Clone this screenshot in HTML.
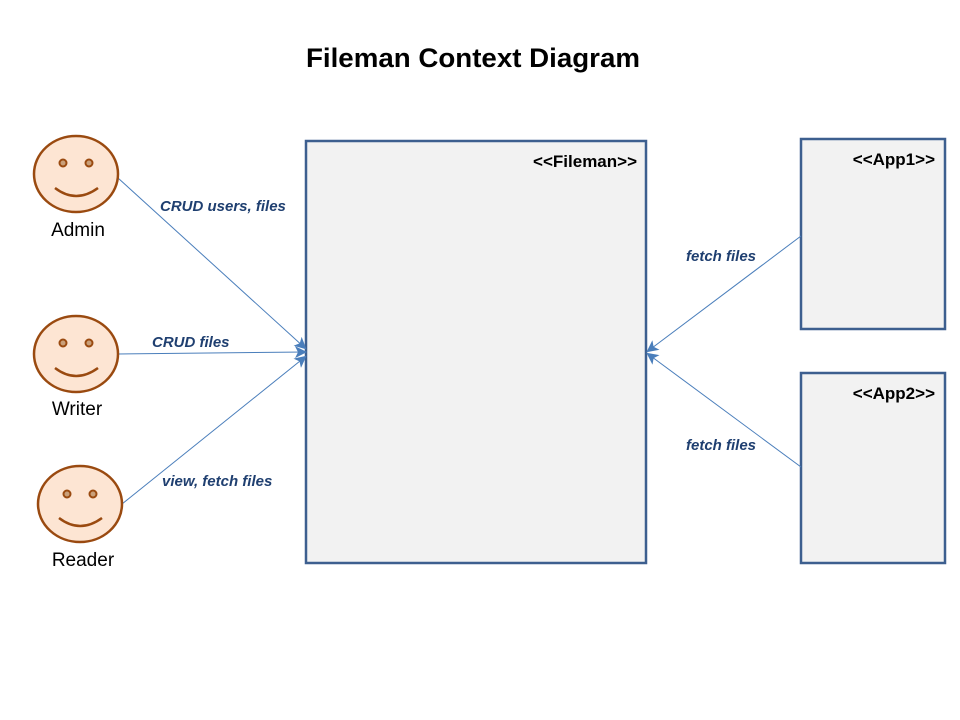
<!DOCTYPE html>
<html><head><style>
body{margin:0;width:960px;height:720px;background:#fff;overflow:hidden}
svg{display:block}
text{font-family:"Liberation Sans",sans-serif}
.lbl{font-size:15px;font-style:italic;font-weight:bold;fill:#1f3f70}
</style></head><body>
<svg width="960" height="720" viewBox="0 0 960 720">
<defs><marker id="a" markerWidth="12" markerHeight="12" refX="10" refY="6" orient="auto" markerUnits="userSpaceOnUse"><path d="M0,0 L12,6 L0,12 L3,6 Z" fill="#4a7ebb"/></marker></defs>
<text x="473" y="67" text-anchor="middle" font-size="27" font-weight="bold" textLength="334" lengthAdjust="spacingAndGlyphs">Fileman Context Diagram</text>
<rect x="306" y="141" width="340" height="422" fill="#f2f2f2" stroke="#3d5f8f" stroke-width="2.5"/>
<rect x="801" y="139" width="144" height="190" fill="#f2f2f2" stroke="#3d5f8f" stroke-width="2.5"/>
<rect x="801" y="373" width="144" height="190" fill="#f2f2f2" stroke="#3d5f8f" stroke-width="2.5"/>
<text x="637" y="167" text-anchor="end" font-size="17" font-weight="bold">&lt;&lt;Fileman&gt;&gt;</text>
<text x="935" y="165" text-anchor="end" font-size="17" font-weight="bold">&lt;&lt;App1&gt;&gt;</text>
<text x="935" y="399" text-anchor="end" font-size="17" font-weight="bold">&lt;&lt;App2&gt;&gt;</text>
<g stroke="#4a7ebb" stroke-width="1" fill="none">
<line x1="118" y1="178" x2="305" y2="348" marker-end="url(#a)"/>
<line x1="118" y1="354" x2="305" y2="352" marker-end="url(#a)"/>
<line x1="122" y1="504" x2="305" y2="357" marker-end="url(#a)"/>
<line x1="801" y1="236" x2="648" y2="351" marker-end="url(#a)"/>
<line x1="801" y1="467" x2="648" y2="354" marker-end="url(#a)"/>
</g>
<text class="lbl" x="160" y="211">CRUD users, files</text>
<text class="lbl" x="152" y="347">CRUD files</text>
<text class="lbl" x="162" y="486">view, fetch files</text>
<text class="lbl" x="686" y="261">fetch files</text>
<text class="lbl" x="686" y="450">fetch files</text>
<g fill="#fde5d3" stroke="#9a4a10" stroke-width="2.5">
<ellipse cx="76" cy="174" rx="42" ry="38"/>
<ellipse cx="76" cy="354" rx="42" ry="38"/>
<ellipse cx="80" cy="504" rx="42" ry="38"/>
</g>
<g fill="#c9a07a" stroke="#9a4a10" stroke-width="2">
<circle cx="63" cy="163" r="3.5"/><circle cx="89" cy="163" r="3.5"/>
<circle cx="63" cy="343" r="3.5"/><circle cx="89" cy="343" r="3.5"/>
<circle cx="67" cy="494" r="3.5"/><circle cx="93" cy="494" r="3.5"/>
</g>
<g fill="none" stroke="#9a4a10" stroke-width="2.5">
<path d="M55,188 Q76,204 98,188"/>
<path d="M55,368 Q76,384 98,368"/>
<path d="M59,518 Q80,534 102,518"/>
</g>
<text x="78" y="236" text-anchor="middle" font-size="19">Admin</text>
<text x="77" y="415" text-anchor="middle" font-size="19">Writer</text>
<text x="83" y="566" text-anchor="middle" font-size="19">Reader</text>
</svg>
</body></html>
